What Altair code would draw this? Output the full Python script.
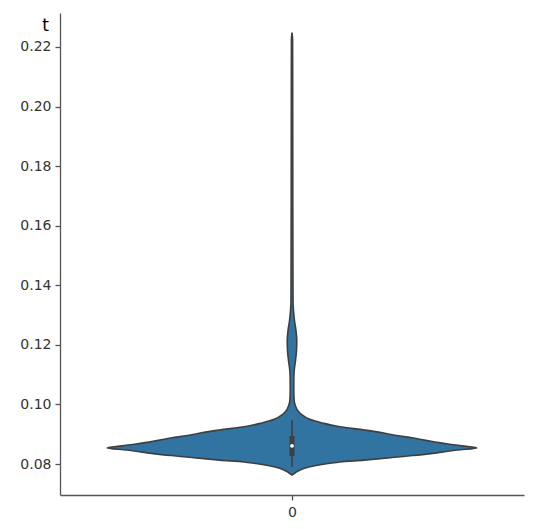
import altair as alt
import pandas as pd

# Violin outline: t value and half-width (in category-band units)
violin_t = [0.0763, 0.0770, 0.0780, 0.0790, 0.0800, 0.0807, 0.0813, 0.0820, 0.0827,
            0.0830, 0.0840, 0.0847, 0.0854, 0.0861, 0.0867, 0.0874, 0.0881,
            0.0888, 0.0894, 0.0901, 0.0908, 0.0914, 0.0925, 0.0938, 0.0951, 0.0965,
            0.0978, 0.0995, 0.1012, 0.1046, 0.1079, 0.1113, 0.1147, 0.1180, 0.1214,
            0.1248, 0.1281, 0.1315, 0.1349, 0.1685, 0.2022, 0.2224, 0.2247]
violin_halfwidth = [0.0, 0.0065, 0.0172, 0.0366, 0.0711, 0.1034, 0.1552, 0.2069, 0.2500,
                    0.2716, 0.3233, 0.3556, 0.3987, 0.3664, 0.3362, 0.3082, 0.2823,
                    0.2586, 0.2328, 0.2069, 0.1832, 0.1573, 0.1034, 0.0647, 0.0366, 0.0216,
                    0.0129, 0.0075, 0.0047, 0.0039, 0.0039, 0.0047, 0.0075, 0.0097, 0.0103,
                    0.0086, 0.0054, 0.0032, 0.0022, 0.0017, 0.0015, 0.0013, 0.0]

# Inner box summary
whisker_low, whisker_high = 0.0790, 0.0948
q1, q3 = 0.0827, 0.0894
median = 0.0861

categories = [0]
y_ticks = [0.08, 0.10, 0.12, 0.14, 0.16, 0.18, 0.20, 0.22]

violin = pd.DataFrame({"t": violin_t, "d": violin_halfwidth})
box = pd.DataFrame({"cat": categories, "wlo": [whisker_low], "whi": [whisker_high],
                    "q1": [q1], "q3": [q3], "med": [median]})

EDGE = "#3f3f3f"
FILL = "#3274a1"

yscale = alt.Scale(domain=[0.0696, 0.2314], nice=False, zero=False)
xscale = alt.Scale(domain=[-0.5, 0.5], nice=False, zero=False)

yaxis = alt.Axis(values=y_ticks, format=".2f", title="t", titleAngle=0,
                 titleX=-15, titleY=17, titleAlign="center", titleBaseline="alphabetic",
                 titleFontSize=17, titleFontWeight="normal", titleColor="#000000",
                 titleFont="DejaVu Sans")
xaxis = alt.Axis(values=categories, format="d", title=None)

area = alt.Chart(violin).transform_calculate(neg="-datum.d").mark_area(
    orient="horizontal", fill=FILL, stroke=EDGE, strokeWidth=1.6, strokeJoin="round",
    interpolate="monotone"
).encode(
    y=alt.Y("t:Q", scale=yscale, axis=yaxis),
    x=alt.X("neg:Q", scale=xscale, axis=xaxis),
    x2="d:Q",
)

whisk = alt.Chart(box).mark_rule(color=EDGE, strokeWidth=1.6).encode(
    x=alt.X("cat:Q", scale=xscale), y=alt.Y("wlo:Q", scale=yscale), y2="whi:Q")
boxr = alt.Chart(box).mark_rule(color=EDGE, strokeWidth=5).encode(
    x=alt.X("cat:Q", scale=xscale), y=alt.Y("q1:Q", scale=yscale), y2="q3:Q")
med = alt.Chart(box).mark_point(filled=True, color="white", size=14, opacity=1).encode(
    x=alt.X("cat:Q", scale=xscale), y=alt.Y("med:Q", scale=yscale))

chart = alt.layer(area, whisk, boxr, med).properties(
    width=464, height=482,
    autosize=alt.AutoSizeParams(type="none"),
    padding={"left": 52, "top": 5, "right": 18, "bottom": 26},
).configure_view(stroke=None).configure_axis(
    grid=False, domainColor="#555555", domainWidth=1.3, tickColor="#555555",
    tickSize=5, tickWidth=1.3, labelFont="DejaVu Sans", labelFontSize=14,
    labelColor="#333333", labelPadding=4,
).configure_axisX(labelPadding=5)

chart.save("out.html", embed_options={"renderer": "svg", "actions": False})
